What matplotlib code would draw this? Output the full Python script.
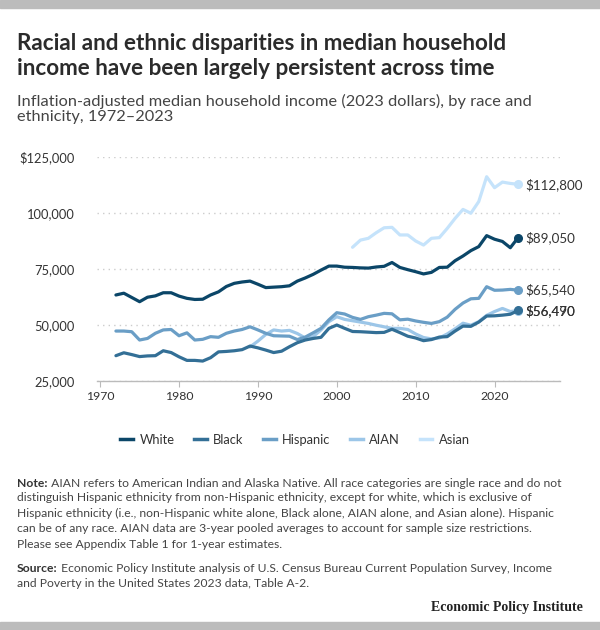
import matplotlib
matplotlib.use("Agg")
import matplotlib.pyplot as plt
from matplotlib.lines import Line2D
from matplotlib.ticker import FuncFormatter

# median household income, thousands of 2023 dollars
YEARS_ALL = list(range(1972, 2024))
WHITE = [63.4, 64.2, 62.3, 60.4, 62.4, 63.0, 64.4, 64.4, 62.9, 61.9,
         61.4, 61.5, 63.4, 64.8, 67.2, 68.6, 69.2, 69.6, 68.2, 66.7,
         66.9, 67.1, 67.5, 69.6, 71.0, 72.6, 74.5, 76.3, 76.3, 75.8,
         75.7, 75.5, 75.4, 75.9, 76.2, 77.9, 75.7, 74.7, 73.8, 72.8,
         73.5, 75.7, 75.8, 78.7, 80.8, 83.2, 85.0, 89.9, 88.3, 87.3,
         84.5, 89.05]
BLACK = [36.3, 37.6, 36.8, 35.9, 36.2, 36.3, 38.5, 37.7, 35.8, 34.2,
         34.2, 33.9, 35.4, 38.0, 38.2, 38.5, 39.0, 40.6, 39.8, 38.8,
         37.7, 38.3, 40.3, 42.1, 43.3, 44.0, 44.5, 48.5, 50.0, 48.5,
         47.1, 47.0, 46.8, 46.6, 46.7, 48.1, 46.6, 45.0, 44.2, 43.0,
         43.5, 44.6, 44.8, 47.3, 49.5, 49.4, 51.3, 54.0, 54.1, 54.4,
         54.8, 56.49]
HISPANIC = [47.3, 47.3, 47.0, 43.3, 44.0, 46.3, 47.8, 48.0, 45.2, 46.5,
            43.3, 43.6, 44.8, 44.5, 46.3, 47.3, 48.0, 49.2, 47.8, 46.3,
            45.2, 45.1, 45.0, 43.5, 44.6, 46.5, 48.5, 52.3, 55.5, 54.9,
            53.4, 52.5, 53.7, 54.4, 55.2, 55.0, 52.3, 52.6, 51.8, 51.2,
            50.7, 51.5, 53.5, 57.0, 59.8, 61.7, 61.9, 67.1, 65.5, 65.6,
            65.9, 65.54]
YEARS_AIAN = list(range(1989, 2024))
AIAN = [40.2, 42.8, 45.8, 47.8, 47.3, 47.6, 46.2, 44.2, 44.8, 47.8,
        51.5, 53.7, 52.5, 51.9, 51.3, 50.7, 49.9, 49.2, 48.5, 48.5,
        48.0, 46.0, 44.4, 43.8, 44.2, 46.0, 48.3, 50.8, 49.9, 51.5,
        54.3, 56.0, 57.4, 56.0, 56.46]
YEARS_ASIAN = list(range(2002, 2024))
ASIAN = [84.7, 87.9, 88.7, 91.2, 93.4, 93.6, 90.2, 90.2, 87.5, 85.7,
         88.7, 89.0, 93.1, 97.6, 101.6, 99.9, 105.1, 116.2, 111.3, 113.8,
         113.2, 112.8]

NAMES = ["White", "Black", "Hispanic", "AIAN", "Asian"]
END_LABELS = ["$89,050", "$56,490", "$65,540", "$56,470", "$112,800"]
COLORS = ["#0b4668", "#336f96", "#6a9ec6", "#9cc6e8", "#c5e3fb"]

plt.rcParams["font.family"] = ["Lato", "DejaVu Sans"]

fig = plt.figure(figsize=(6.0, 6.3), dpi=100)

# grey bars top and bottom
fig.patches.append(plt.Rectangle((0, 1 - 8 / 630), 1, 8 / 630, transform=fig.transFigure,
                                 color="#bcbcbc", zorder=0))
fig.patches.append(plt.Rectangle((0, 0), 1, 8 / 630, transform=fig.transFigure,
                                 color="#bcbcbc", zorder=0))

fig.text(17 / 600, 1 - 56 / 630,
         "Racial and ethnic disparities in median household\n"
         "income have been largely persistent across time",
         fontsize=16.2, fontweight="bold", color="#2b2b2b", va="center",
         linespacing=1.25)
fig.text(17 / 600, 1 - 109 / 630,
         "Inflation-adjusted median household income (2023 dollars), by race and\n"
         "ethnicity, 1972\u20132023",
         fontsize=11.8, color="#444444", va="center", linespacing=1.15)

ax = fig.add_axes([97 / 600, 1 - 381 / 630, (560 - 97) / 600, (381 - 157) / 630])

series = [(YEARS_ALL, WHITE), (YEARS_ALL, BLACK), (YEARS_ALL, HISPANIC),
          (YEARS_AIAN, AIAN), (YEARS_ASIAN, ASIAN)]
for i in [4, 3, 2, 1, 0]:
    xs, ys = series[i]
    ys = [v * 1000 for v in ys]
    ax.plot(xs, ys, color=COLORS[i], lw=2.3, solid_capstyle="round",
            solid_joinstyle="round", zorder=3 + (4 - i))
    ax.plot(xs[-1], ys[-1], "o", color=COLORS[i], ms=5.5, zorder=3 + (4 - i))
    ax.text(xs[-1] + 0.9, ys[-1], END_LABELS[i], fontsize=9.6, color="#333333",
            va="center", ha="left")

ax.set_xlim(1969.6, 2028.3)
ax.set_ylim(25000, 125000)
ax.set_yticks([25000, 50000, 75000, 100000, 125000])
ax.yaxis.set_major_formatter(FuncFormatter(
    lambda v, p: f"${v:,.0f}" if v == 125000 else f"{v:,.0f}"))
ax.set_xticks([1970, 1980, 1990, 2000, 2010, 2020])

ax.grid(axis="y", color="#cccccc", lw=1.0, linestyle=(0, (1, 3)))
ax.set_axisbelow(True)
for s in ["top", "right", "left"]:
    ax.spines[s].set_visible(False)
ax.spines["bottom"].set_color("#bbbbbb")
ax.spines["bottom"].set_linewidth(1.0)
ax.tick_params(axis="y", length=0, pad=16, labelsize=9.3, labelcolor="#333333")
ax.tick_params(axis="x", length=4, color="#bbbbbb", pad=3, labelsize=8.8,
               labelcolor="#333333")

handles = [Line2D([0], [0], color=c, lw=2.5) for c in COLORS]
fig.legend(handles, NAMES, loc="center", bbox_to_anchor=(295 / 600, 1 - 440 / 630),
           ncol=5, frameon=False, fontsize=9.3, handlelength=1.0,
           handletextpad=0.5, columnspacing=1.5, labelcolor="#333333")

FS = 8.7
note_first = (" AIAN refers to American Indian and Alaska Native. All race categories "
              "are single race and do not")
note_rest = ("distinguish Hispanic ethnicity from non-Hispanic ethnicity, except for white, which is exclusive of\n"
             "Hispanic ethnicity (i.e., non-Hispanic white alone, Black alone, AIAN alone, and Asian alone). Hispanic\n"
             "can be of any race. AIAN data are 3-year pooled averages to account for sample size restrictions.\n"
             "Please see Appendix Table 1 for 1-year estimates.")
t = fig.text(17 / 600, 1 - 487 / 630, "Note:", fontsize=FS, fontweight="bold",
             color="#333333", va="baseline")
ax.annotate(note_first, xy=(1, 0), xycoords=t, fontsize=FS, color="#444444",
            va="bottom", ha="left", annotation_clip=False)
fig.text(17 / 600, 1 - 492 / 630, note_rest, fontsize=FS, color="#444444",
         va="top", linespacing=1.52)

t2 = fig.text(17 / 600, 1 - 572 / 630, "Source:", fontsize=FS, fontweight="bold",
              color="#333333", va="baseline")
ax.annotate(" Economic Policy Institute analysis of U.S. Census Bureau Current "
            "Population Survey, Income", xy=(1, 0), xycoords=t2, fontsize=FS,
            color="#444444", va="bottom", ha="left", annotation_clip=False)
fig.text(17 / 600, 1 - 578 / 630,
         "and Poverty in the United States 2023 data, Table A-2.",
         fontsize=FS, color="#444444", va="top")

fig.text(583 / 600, 1 - 607 / 630, "Economic Policy Institute", fontsize=10,
         fontweight="bold", family=["Liberation Serif", "DejaVu Serif"],
         color="#222222", ha="right", va="center")

fig.savefig("out.png", dpi=100)
